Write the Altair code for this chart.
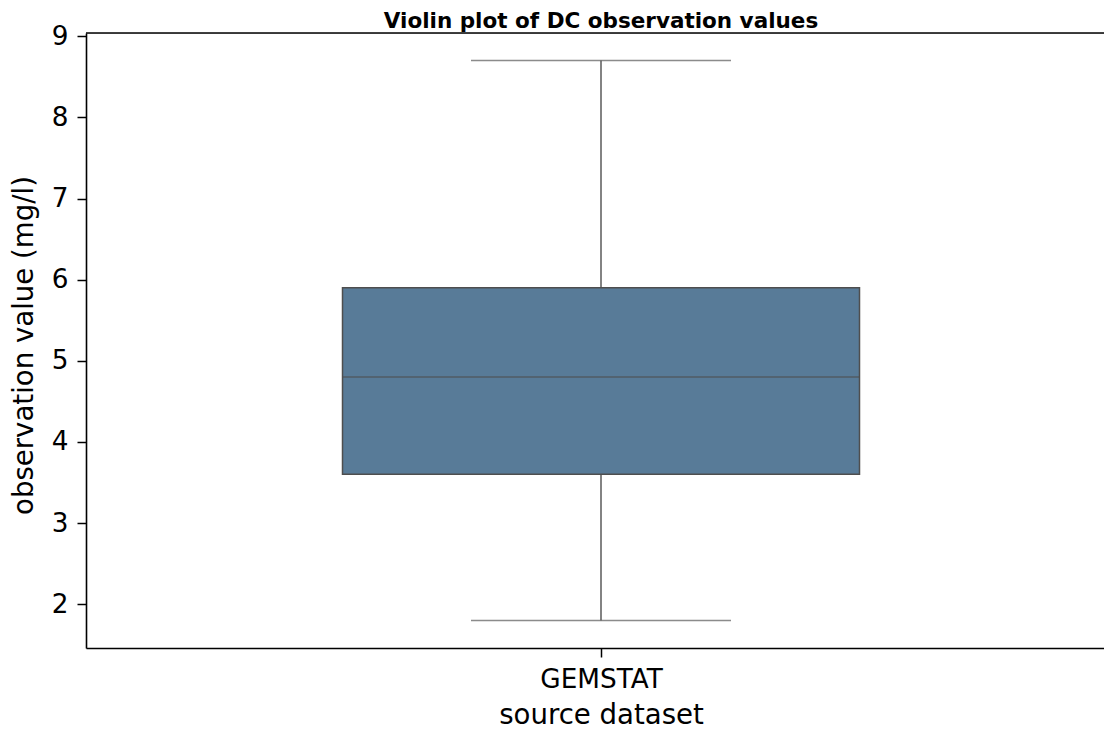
import altair as alt
import pandas as pd

# data
categories = ["GEMSTAT"]
whisker_low = [1.8]
q1 = [3.6]
median = [4.8]
q3 = [5.9]
whisker_high = [8.7]
y_ticks = [2, 3, 4, 5, 6, 7, 8, 9]
title_text = "Violin plot of DC observation values"

df = pd.DataFrame({
    "source": categories,
    "lo": whisker_low,
    "q1": q1,
    "med": median,
    "q3": q3,
    "hi": whisker_high,
})

Y_DOMAIN = [1.46, 9.04]
W = 1018
H = 615
XRANGE = 1030

xscale = alt.Scale(type="point", range=[0, XRANGE], domain=categories)
yscale = alt.Scale(domain=Y_DOMAIN, nice=False, zero=False)

x_enc = alt.X(
    "source:N",
    scale=xscale,
    axis=alt.Axis(
        title="source dataset",
        labelAngle=0,
        labelFontSize=26.3,
        labelFont="DejaVu Sans",
        labelColor="#000000",
        labelBaseline="alphabetic",
        labelPadding=30,
        tickSize=9,
        tickWidth=1.5,
        tickColor="#000000",
        domainColor="#000000",
        domainWidth=1.6,
        titleFontSize=27.6,
        titleFont="DejaVu Sans",
        titleFontWeight="normal",
        titleColor="#000000",
        titleBaseline="alphabetic",
        titleY=75,
        titleX=515,
        grid=False,
    ),
)

y_axis = alt.Axis(
    title="observation value (mg/l)",
    values=y_ticks,
    format="d",
    labelFontSize=26.3,
    labelFont="DejaVu Sans",
    labelColor="#000000",
    labelPadding=9,
    tickSize=9,
    tickWidth=1.5,
    tickColor="#000000",
    domainColor="#000000",
    domainWidth=1.6,
    titleFontSize=27.6,
    titleFont="DejaVu Sans",
    titleFontWeight="normal",
    titleColor="#000000",
    titleBaseline="alphabetic",
    titleAngle=-90,
    titleX=-54,
    titleY=312,
    grid=False,
)

base = alt.Chart(df)

whisker = base.mark_rule(color="#5a5a5a", strokeWidth=1.5).encode(
    x=x_enc,
    y=alt.Y("lo:Q", scale=yscale, axis=y_axis),
    y2="hi:Q",
)

caps_low = base.mark_tick(color="#5a5a5a", size=260, thickness=1.5, orient="horizontal").encode(
    x=alt.X("source:N", scale=xscale),
    y=alt.Y("lo:Q", scale=yscale),
)
caps_high = base.mark_tick(color="#5a5a5a", size=260, thickness=1.5, orient="horizontal").encode(
    x=alt.X("source:N", scale=xscale),
    y=alt.Y("hi:Q", scale=yscale),
)

box = base.mark_bar(
    size=517, color="#587b98", stroke="#4e4e4e", strokeWidth=1.5
).encode(
    x=alt.X("source:N", scale=xscale),
    y=alt.Y("q1:Q", scale=yscale),
    y2="q3:Q",
)

med = base.mark_tick(color="#4e4e4e", size=517, thickness=1.5, orient="horizontal").encode(
    x=alt.X("source:N", scale=xscale),
    y=alt.Y("med:Q", scale=yscale),
)

top_spine = base.mark_rule(color="#000000", strokeWidth=1.6).encode(
    x=alt.value(0), x2=alt.value(W), y=alt.value(0)
)

title_mark = base.mark_text(
    font="DejaVu Sans",
    fontSize=21.5,
    fontWeight="bold",
    color="#000000",
    align="center",
    baseline="alphabetic",
).encode(
    x=alt.value(XRANGE / 2),
    y=alt.value(-5),
    text=alt.value(title_text),
)

chart = (
    alt.layer(whisker, caps_low, caps_high, box, med, top_spine, title_mark)
    .properties(
        width=W,
        height=H,
        autosize=alt.AutoSizeParams(type="none"),
        padding={"left": 78, "top": 25, "right": 0, "bottom": 83},
    )
    .configure_view(strokeWidth=0, strokeOpacity=0)
    .configure(background="white")
)

chart.save("out.html", embed_options={"renderer": "svg", "actions": False})
